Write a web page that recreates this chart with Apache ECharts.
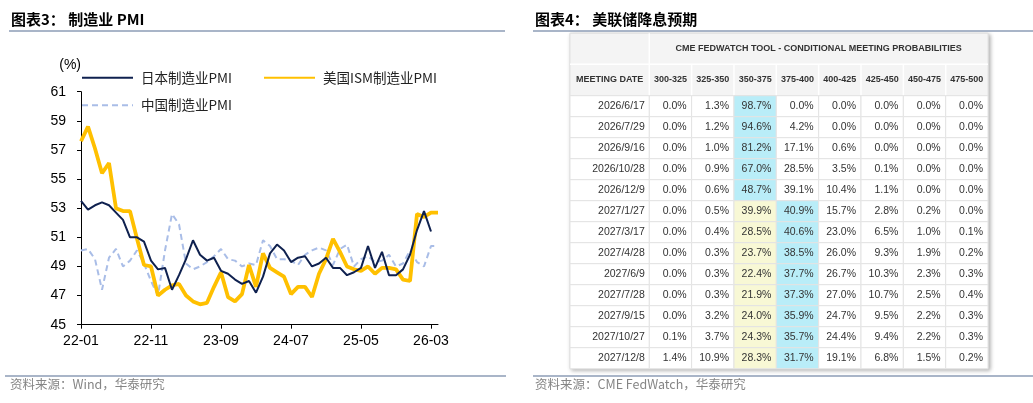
<!DOCTYPE html>
<html><head><meta charset="utf-8">
<script src="https://cdn.jsdelivr.net/npm/echarts@6/dist/echarts.min.js"></script>
<style>html,body{margin:0;padding:0;background:#fff}#c{width:1033px;height:403px}</style>
</head><body><div id="c"></div>
<script>
// ---------- Left chart data ----------
const months = [
  '22-01','22-02','22-03','22-04','22-05','22-06','22-07','22-08','22-09','22-10','22-11','22-12',
  '23-01','23-02','23-03','23-04','23-05','23-06','23-07','23-08','23-09','23-10','23-11','23-12',
  '24-01','24-02','24-03','24-04','24-05','24-06','24-07','24-08','24-09','24-10','24-11','24-12',
  '25-01','25-02','25-03','25-04','25-05','25-06','25-07','25-08','25-09','25-10','25-11','25-12',
  '26-01','26-02','26-03','26-04'];
const japanPMI = [
  53.5,52.9,53.2,53.4,53.2,52.7,52.2,51.0,51.0,50.7,49.4,48.8,
  48.9,47.4,48.4,49.5,50.8,49.8,49.4,49.6,48.7,48.5,48.1,47.8,
  48.0,47.2,48.3,49.9,50.5,50.1,49.3,49.6,49.7,49.0,49.2,49.6,
  48.9,48.9,48.4,48.6,48.9,50.4,48.9,50.0,48.4,48.4,48.8,49.8,
  51.5,52.8,51.4,null];
const usISM = [
  57.6,58.6,57.1,55.4,56.1,53.0,52.8,52.8,50.9,49.1,49.0,47.0,
  47.4,47.7,47.8,47.0,46.6,46.4,46.5,47.6,48.6,46.9,46.6,47.1,
  49.1,47.6,49.9,48.9,48.6,48.3,47.1,47.6,47.6,46.9,48.5,49.5,
  50.9,50.0,49.0,48.8,48.7,49.0,48.5,48.9,48.9,48.8,48.1,48.0,
  52.6,52.4,52.7,52.7];
const chinaPMI = [
  50.1,50.2,49.5,47.4,49.6,50.2,49.0,49.4,50.1,49.2,48.0,47.0,
  50.1,52.6,51.9,49.2,48.8,49.0,49.3,49.7,50.2,49.5,49.4,49.0,
  49.2,49.1,50.8,50.4,49.5,49.5,49.4,49.1,49.8,50.1,50.3,50.1,
  49.1,50.2,50.5,49.0,49.5,49.7,49.3,49.4,49.8,49.0,49.2,50.1,
  49.3,49.0,50.4,50.4];
const yMin = 45, yMax = 61, yStep = 2;

// ---------- Right table data ----------
const meetingDates = ['2026/6/17','2026/7/29','2026/9/16','2026/10/28','2026/12/9','2027/1/27',
  '2027/3/17','2027/4/28','2027/6/9','2027/7/28','2027/9/15','2027/10/27','2027/12/8'];
const rateBins = ['300-325','325-350','350-375','375-400','400-425','425-450','450-475','475-500'];
const currentBin = '350-375';
const p300_325 = [0.0,0.0,0.0,0.0,0.0,0.0,0.0,0.0,0.0,0.0,0.0,0.1,1.4];
const p325_350 = [1.3,1.2,1.0,0.9,0.6,0.5,0.4,0.3,0.3,0.3,3.2,3.7,10.9];
const p350_375 = [98.7,94.6,81.2,67.0,48.7,39.9,28.5,23.7,22.4,21.9,24.0,24.3,28.3];
const p375_400 = [0.0,4.2,17.1,28.5,39.1,40.9,40.6,38.5,37.7,37.3,35.9,35.7,31.7];
const p400_425 = [0.0,0.0,0.6,3.5,10.4,15.7,23.0,26.0,26.7,27.0,24.7,24.4,19.1];
const p425_450 = [0.0,0.0,0.0,0.1,1.1,2.8,6.5,9.3,10.3,10.7,9.5,9.4,6.8];
const p450_475 = [0.0,0.0,0.0,0.0,0.0,0.2,1.0,1.9,2.3,2.5,2.2,2.2,1.5];
const p475_500 = [0.0,0.0,0.0,0.0,0.0,0.0,0.1,0.2,0.3,0.4,0.3,0.3,0.2];
const probColumns = [p300_325,p325_350,p350_375,p375_400,p400_425,p425_450,p450_475,p475_500];

// ---------- Build ----------
const CJK = '"Noto Sans CJK SC", sans-serif';
const LAT = '"Liberation Sans", Arial, sans-serif';
const T = { left: 570, dateW: 79.3, colW: 42.34, h1: 33.3, h2: 64.3, body: 95.7, rowH: 21 };
const binLeft = T.left + T.dateW;
const binW = T.colW * rateBins.length;
const bodyH = T.rowH * meetingDates.length;

const cellData = [], cellFill = [];
meetingDates.forEach((d, r) => {
  const rowVals = probColumns.map(col => col[r]);
  const rowMax = Math.max.apply(null, rowVals);
  rowVals.forEach((v, c) => {
    cellData.push([c, r, v]);
    cellFill.push(v === rowMax ? '#b9edf8' : (rateBins[c] === currentBin ? '#f8f8d5' : '#ffffff'));
  });
});
const dateData = meetingDates.map((d, r) => [0, r]);

const graphics = [];
graphics.push({type:'text', left: 11, top: 12, z: 5, style:{text:'图表3： 制造业 PMI', font:'bold 15px ' + CJK, fill:'#000'}});
graphics.push({type:'text', left: 535, top: 12, z: 5, style:{text:'图表4： 美联储降息预期', font:'bold 15px ' + CJK, fill:'#000'}});
[[9,505,31],[533,1033,31],[5,506,376],[533,1033,376]].forEach(a => graphics.push({
  type:'line', z: 5, shape:{x1:a[0], y1:a[2], x2:a[1], y2:a[2]}, style:{stroke:'#8c9db6', lineWidth:1.5}}));
graphics.push({type:'text', left: 10, top: 378, z: 5, style:{text:'资料来源：Wind，华泰研究', font:'12.5px ' + CJK, fill:'#858585'}});
graphics.push({type:'text', left: 535, top: 378, z: 5, style:{text:'资料来源：CME FedWatch，华泰研究', font:'12.5px ' + CJK, fill:'#858585'}});
const tW = T.dateW + binW, tH = T.body + bodyH - T.h1;
graphics.push({type:'rect', z: 0, shape:{x:T.left, y:T.h1, width:tW, height:tH},
  style:{fill:'#fff', stroke:'#dedede', lineWidth:1, shadowBlur:4, shadowOffsetX:1.5, shadowOffsetY:1.5, shadowColor:'rgba(0,0,0,0.3)'}});
graphics.push({type:'rect', z: 1, shape:{x:T.left, y:T.h1, width:tW, height:T.body - T.h1}, style:{fill:'#f4f4f4', stroke:'#e2e2e2', lineWidth:1}});
graphics.push({type:'line', z: 2, shape:{x1:T.left, y1:T.h2, x2:T.left + tW, y2:T.h2}, style:{stroke:'#ffffff', lineWidth:1.5}});
graphics.push({type:'line', z: 2, shape:{x1:binLeft, y1:T.h1, x2:binLeft, y2:T.body}, style:{stroke:'#ffffff', lineWidth:1.5}});
for (let i = 1; i < rateBins.length; i++) {
  const x = binLeft + i * T.colW;
  graphics.push({type:'line', z: 2, shape:{x1:x, y1:T.h2, x2:x, y2:T.body}, style:{stroke:'#ffffff', lineWidth:1.5}});
}
graphics.push({type:'text', z: 3, x: binLeft + binW / 2, y: (T.h1 + T.h2) / 2,
  style:{text:'CME FEDWATCH TOOL - CONDITIONAL MEETING PROBABILITIES', font:'bold 9px ' + LAT, fill:'#333', align:'center', verticalAlign:'middle'}});

function cellRect(api, fill, text, pad) {
  const c = api.coord([api.value(0), api.value(1)]);
  const s = api.size([1, 1]);
  return {type:'group', children:[
    {type:'rect', shape:{x:c[0]-s[0]/2, y:c[1]-s[1]/2, width:s[0], height:s[1]}, style:{fill:fill, stroke:'#e3e3e3', lineWidth:1}},
    {type:'text', style:{text:text, x:c[0]+s[0]/2-pad, y:c[1], align:'right', verticalAlign:'middle', font:'10.5px ' + LAT, fill:'#333'}}
  ]};
}

const headLabel = {position:'top', margin:16, verticalAlign:'middle', fontSize:9, fontWeight:'bold', color:'#333', fontFamily:LAT, interval:0};
const legendBase = {orient:'vertical', top:71, padding:0, itemWidth:51, itemHeight:14, itemGap:14, selectedMode:false,
  itemStyle:{opacity:0, borderWidth:0},
  textStyle:{fontSize:13.5, color:'#222', fontFamily:CJK, padding:[0,0,0,3]}};

const option = {
  animation: false,
  backgroundColor: '#fff',
  graphic: { elements: graphics },
  legend: [
    Object.assign({}, legendBase, {data:['日本制造业PMI','中国制造业PMI'], left:81}),
    Object.assign({}, legendBase, {data:['美国ISM制造业PMI'], left:263})
  ],
  grid: [
    {left:81, top:91.7, width:357, height:233, containLabel:false, outerBoundsMode:'none'},
    {left:T.left, top:T.body, width:T.dateW, height:bodyH, containLabel:false, outerBoundsMode:'none'},
    {left:binLeft, top:T.body, width:binW, height:bodyH, containLabel:false, outerBoundsMode:'none'}
  ],
  xAxis: [
    {gridIndex:0, type:'category', data:months, boundaryGap:false,
     axisLine:{lineStyle:{color:'#000', width:1}},
     axisTick:{show:true, interval:9, length:4, lineStyle:{color:'#000'}},
     axisLabel:{interval:9, fontSize:14, color:'#000', margin:9, fontFamily:LAT},
     splitLine:{show:false}},
    {gridIndex:1, type:'category', data:['MEETING DATE'], position:'top', z:10,
     axisLine:{show:false}, axisTick:{show:false}, axisLabel:headLabel, splitLine:{show:false}},
    {gridIndex:2, type:'category', data:rateBins, position:'top', z:10,
     axisLine:{show:false}, axisTick:{show:false}, axisLabel:headLabel, splitLine:{show:false}}
  ],
  yAxis: [
    {gridIndex:0, type:'value', min:yMin, max:yMax, interval:yStep,
     name:'(%)', nameLocation:'end', nameGap:27, nameMoveOverlap:false,
     nameTextStyle:{align:'right', verticalAlign:'middle', fontSize:14, color:'#000', fontFamily:LAT},
     axisLine:{show:true, lineStyle:{color:'#000', width:1}},
     axisTick:{show:true, length:4, lineStyle:{color:'#000'}},
     axisLabel:{fontSize:14, color:'#000', margin:15, fontFamily:LAT},
     splitLine:{show:false}},
    {gridIndex:1, type:'category', data:meetingDates, inverse:true, show:false},
    {gridIndex:2, type:'category', data:meetingDates, inverse:true, show:false}
  ],
  series: [
    {name:'日本制造业PMI', type:'line', xAxisIndex:0, yAxisIndex:0, data:japanPMI, symbol:'none', showSymbol:false,
     lineStyle:{color:'#0f214f', width:2}, itemStyle:{color:'#0f214f'}, z:3},
    {name:'美国ISM制造业PMI', type:'line', xAxisIndex:0, yAxisIndex:0, data:usISM, symbol:'none', showSymbol:false,
     lineStyle:{color:'#ffc000', width:3.8}, itemStyle:{color:'#ffc000'}, z:2},
    {name:'中国制造业PMI', type:'line', xAxisIndex:0, yAxisIndex:0, data:chinaPMI, symbol:'none', showSymbol:false,
     lineStyle:{color:'#a9bde7', width:2, type:[6,4]}, itemStyle:{color:'#a9bde7'}, z:1},
    {type:'custom', xAxisIndex:1, yAxisIndex:1, data:dateData, encode:{x:0, y:1}, clip:false, z:3,
     renderItem:(params, api) => cellRect(api, '#ffffff', meetingDates[params.dataIndex], 4.5)},
    {type:'custom', xAxisIndex:2, yAxisIndex:2, data:cellData, encode:{x:0, y:1}, clip:false, z:3,
     renderItem:(params, api) => cellRect(api, cellFill[params.dataIndex], api.value(2).toFixed(1) + '%', 5)}
  ]
};
const chart = echarts.init(document.getElementById('c'), null, {renderer:'canvas'});
chart.setOption(option);
</script>
</body></html>
